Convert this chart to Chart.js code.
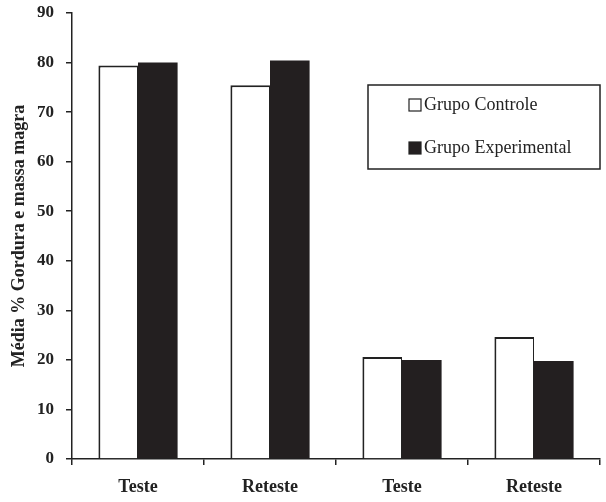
<!DOCTYPE html>
<html>
<head>
<meta charset="utf-8">
<script src="https://cdn.jsdelivr.net/npm/chart.js@4"></script>
<style>
  html, body { margin: 0; padding: 0; background: #fff; }
  #wrap { width: 606px; height: 502px; }
</style>
</head>
<body>
<div id="wrap"><canvas id="chart" width="606" height="502"></canvas></div>
<script>
const categories = ["Teste", "Reteste", "Teste", "Reteste"];
const controle = [79.4, 75.4, 20.6, 24.6];
const experimental = [80.0, 80.4, 20.0, 19.8];
const yTicks = [0, 10, 20, 30, 40, 50, 60, 70, 80, 90];

const serif = "'Liberation Serif', 'Times New Roman', serif";

// legend drawn as a boxed panel inside the plot, like the original figure
const boxLegend = {
  id: "boxLegend",
  afterDraw(chart) {
    const ctx = chart.ctx;
    const x = 368, y = 85, w = 232, h = 84;
    ctx.save();
    ctx.strokeStyle = "#222";
    ctx.lineWidth = 1.5;
    ctx.strokeRect(x, y, w, h);
    ctx.font = "18px " + serif;
    ctx.textBaseline = "middle";
    chart.data.datasets.forEach((ds, i) => {
      const ty = y + 20 + i * 43;
      ctx.fillStyle = ds.backgroundColor;
      ctx.fillRect(x + 41, ty - 6, 12, 12);
      ctx.strokeStyle = "#222";
      ctx.lineWidth = 1.2;
      ctx.strokeRect(x + 41, ty - 6, 12, 12);
      ctx.fillStyle = "#222";
      ctx.fillText(ds.label, x + 56, ty);
    });
    ctx.restore();
  }
};

new Chart(document.getElementById("chart").getContext("2d"), {
  type: "bar",
  data: {
    labels: categories,
    datasets: [
      {
        label: "Grupo Controle",
        data: controle,
        backgroundColor: "#ffffff",
        borderColor: "#222",
        borderWidth: { top: 2, left: 2, right: 1, bottom: 0 },
        barPercentage: 1,
        categoryPercentage: 0.6
      },
      {
        label: "Grupo Experimental",
        data: experimental,
        backgroundColor: "#231f20",
        borderColor: "#231f20",
        borderWidth: 0,
        barPercentage: 1,
        categoryPercentage: 0.6
      }
    ]
  },
  options: {
    responsive: false,
    animation: false,
    layout: { padding: { top: 13, right: 6, left: 0, bottom: 0 } },
    plugins: {
      legend: { display: false },
      tooltip: { enabled: false }
    },
    scales: {
      x: {
        offset: true,
        grid: { offset: true, drawOnChartArea: false, drawTicks: true, tickLength: 6, color: "#222", lineWidth: 1.5 },
        border: { color: "#222", width: 1.5 },
        ticks: { color: "#222", font: { family: serif, size: 18, weight: "bold" }, padding: 12 },
        afterFit(scale) { scale.height = 43; scale.paddingLeft = 0; scale.paddingRight = 0; }
      },
      y: {
        min: 0,
        max: 90,
        afterBuildTicks(scale) { scale.ticks = yTicks.map(v => ({ value: v })); },
        grid: { drawOnChartArea: false, drawTicks: true, tickLength: 6, color: "#222", lineWidth: 1.5 },
        border: { color: "#222", width: 1.5 },
        ticks: { color: "#222", font: { family: serif, size: 17, weight: "bold" }, padding: 12 },
        title: {
          display: true,
          text: "Média % Gordura e massa magra",
          color: "#222",
          font: { family: serif, size: 18, weight: "bold" },
          padding: { top: 9, bottom: 0 }
        },
        afterFit(scale) { scale.width = 72; scale.paddingTop = 0; scale.paddingBottom = 0; }
      }
    }
  },
  plugins: [boxLegend]
});
</script>
</body>
</html>
